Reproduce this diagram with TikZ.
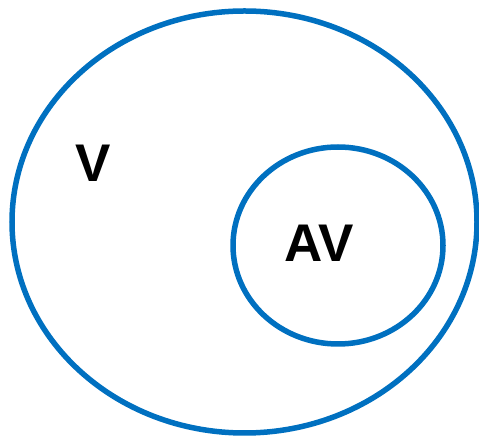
\documentclass[tikz,border=0pt]{standalone}
\usepackage{fontspec}
\setmainfont{Liberation Sans}
\definecolor{vblue}{HTML}{0070C0}
\begin{document}
\begin{tikzpicture}[x=1pt,y=1pt,
  setline/.style={draw=vblue,line width=5.5pt},
  setlabel/.style={font=\fontsize{53}{60}\selectfont\bfseries,inner sep=0pt}]
\useasboundingbox (0,0) rectangle (479,436);
\draw[setline] (244.5,214) ellipse [x radius=232.5, y radius=211];
\draw[setline] (338,190.5) ellipse [x radius=105, y radius=98.5];
\node[setlabel] (V) at (93,273) {V};
\node[setlabel] (AV) at (319,192.5) {AV};
\end{tikzpicture}
\end{document}
